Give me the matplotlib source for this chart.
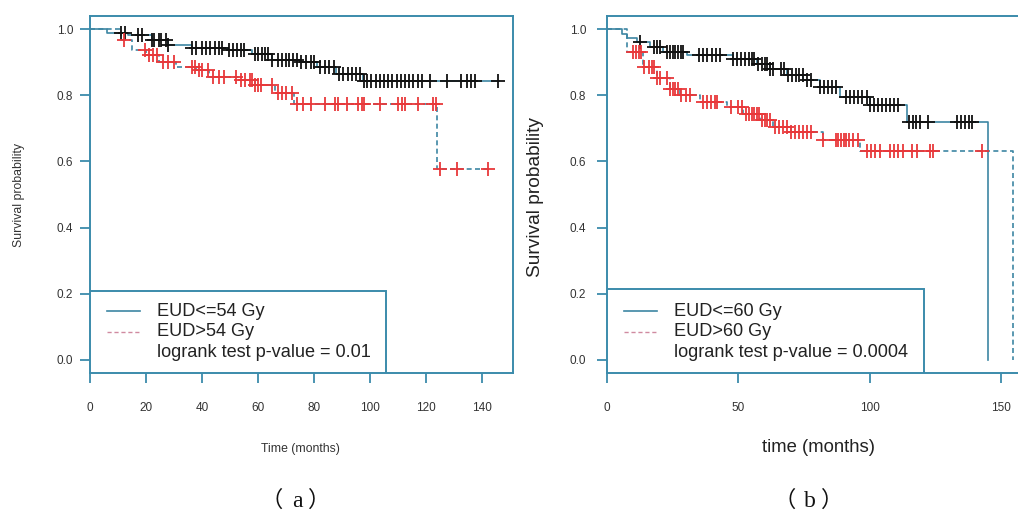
import numpy as np
import matplotlib
matplotlib.use("Agg")
import matplotlib.pyplot as plt
from matplotlib.patches import Rectangle

# ---------------- data ----------------
# Panel (a): EUD 54 Gy split
a_low_times = [0, 6, 13.7, 22, 28, 36.3, 49.4, 57.7, 65, 75, 81, 88, 97.6]
a_low_surv = [1.0, 0.99, 0.982, 0.967, 0.952, 0.942, 0.937, 0.926, 0.906, 0.90, 0.886, 0.866, 0.843]
a_low_end = 146
a_low_cens = [11, 12.5, 17, 18.6, 22, 23, 24.5, 25.5, 27, 28, 36.5, 38, 40, 41.5, 43, 44.5, 46, 47,
              49.5, 51, 52.5, 54, 55, 59, 60, 61.5, 62.5, 63.5, 65, 67, 68.5, 70, 71, 72.5, 74, 75.5,
              77, 79, 80, 82, 84, 85.5, 87, 89, 90.5, 92, 93.5, 95, 96.5, 98, 99, 100.5, 102, 103.5,
              105, 106.5, 108, 109.5, 111, 112.5, 114, 115.5, 117, 118.5, 121.5, 127.4, 132.7, 134.5,
              136, 137.5, 145.7]

a_high_times = [0, 11, 15, 20, 24.6, 30.6, 37.7, 42.5, 53, 59, 66, 73, 124]
a_high_surv = [1.0, 0.967, 0.937, 0.921, 0.90, 0.886, 0.876, 0.856, 0.846, 0.831, 0.806, 0.775, 0.578]
a_high_end = 143
a_high_cens = [12, 19.6, 21, 22.5, 24, 26, 28, 30, 36.4, 37.5, 39, 40, 42, 44, 46, 48, 52, 54, 55.5,
               57, 58, 59, 60, 61, 65, 67, 68.5, 70, 72, 74, 76, 79, 84, 87.5, 88.5, 91.8, 95.7, 97,
               98, 103.6, 110, 111.5, 112.5, 117, 122.5, 123.5, 125, 131, 142]

# Panel (b): EUD 60 Gy split
b_low_times = [0, 5.6, 7.5, 11.6, 16.3, 21.4, 30.3, 48, 57, 62, 68.3, 74.6, 81, 88.6, 100, 114, 145]
b_low_surv = [1.0, 0.987, 0.972, 0.962, 0.947, 0.931, 0.921, 0.911, 0.896, 0.881, 0.861, 0.845,
              0.826, 0.795, 0.770, 0.72, 0.0]
b_low_end = 145
b_low_cens = [12.5, 18, 19, 20, 23, 24, 25, 26, 27, 28, 29, 35, 36.5, 38, 40, 41.5, 43, 48, 49.5, 51,
              52.5, 54, 55, 56, 57.5, 59, 60, 61, 62, 63, 66, 67.5, 69, 70.5, 72, 73, 74.5, 76, 77.5,
              81, 82.5, 84, 85.5, 87, 91, 92.5, 94, 95.5, 97, 99, 100, 101.5, 103, 104.5, 106, 107.5,
              109, 110.5, 115, 116.5, 117.5, 119, 122, 133, 134.5, 136, 137.5, 139]

b_high_times = [0, 7.5, 13.7, 18.9, 24, 27.8, 35.4, 45.5, 51.8, 58.2, 63.2, 70, 82, 96.2, 154.4]
b_high_surv = [1.0, 0.93, 0.886, 0.851, 0.82, 0.80, 0.78, 0.765, 0.745, 0.725, 0.705, 0.69, 0.665,
               0.632, 0.0]
b_high_end = 154.4
b_high_cens = [10, 11, 12, 13, 14, 16, 17, 18, 19, 20, 23, 24, 25, 26, 27, 28, 30, 31.5, 36.5, 38,
               39.5, 41, 42, 47, 50, 51.5, 53, 54, 55, 56, 57, 58, 59, 60, 61, 62, 64, 65.5, 67, 68.5,
               70, 71.5, 73, 74.5, 76, 77.5, 82, 87, 88, 89, 90, 91, 92, 93.5, 95.5, 99, 100.5, 102,
               104, 107.6, 109, 110.5, 112.6, 116, 118, 123, 124, 142.6]

a_xticks = [0, 20, 40, 60, 80, 100, 120, 140]
b_xticks = [0, 50, 100, 150]
yticks = [0.0, 0.2, 0.4, 0.6, 0.8, 1.0]
a_legend = ["EUD<=54 Gy", "EUD>54 Gy", "logrank test p-value = 0.01"]
b_legend = ["EUD<=60 Gy", "EUD>60 Gy", "logrank test p-value = 0.0004"]
captions = ["a", "b"]

# ---------------- style ----------------
AX = "#3b8bab"
LINE = "#3d86a3"
TXT = "#333333"
W, H = 1018, 513

fig = plt.figure(figsize=(W / 100, H / 100), dpi=100)
plt.rcParams["font.family"] = ["Liberation Sans", "DejaVu Sans"]


def step_curve(ax, times, surv, end, cens, mcolor, ls):
    t = np.array(times + [end], dtype=float)
    s = np.array(surv + [surv[-1]], dtype=float)
    ax.step(t, s, where="post", color=LINE, lw=1.2, ls=ls, zorder=3)
    c = np.array(cens, dtype=float)
    idx = np.searchsorted(np.array(times, dtype=float), c, side="right") - 1
    cy = np.array(surv)[idx]
    ax.plot(c, cy, ls="none", marker="+", ms=10, mew=1.3, color=mcolor, zorder=4)


def panel(rect, xmax, xticks, ytick_pad, curves, legend, leg_box, leg_line, leg_text_x):
    ax = fig.add_axes(rect)
    ax.set_xlim(0, xmax)
    ax.set_ylim(-0.04, 1.04)
    for sp in ax.spines.values():
        sp.set_color(AX)
        sp.set_linewidth(1.4)
    ax.set_xticks(xticks)
    ax.set_yticks(yticks)
    ax.set_yticklabels([f"{v:.1f}" for v in yticks])
    ax.tick_params(axis="both", direction="out", length=7, width=1.3, color=AX,
                   labelsize=8.5, labelcolor=TXT)
    ax.tick_params(axis="x", pad=14)
    ax.tick_params(axis="y", pad=ytick_pad)
    for c in curves:
        step_curve(ax, *c)
    # legend box
    bx, btop = leg_box
    ax.add_patch(Rectangle((0, -0.04), bx, btop + 0.04, fill=True, facecolor="white",
                           edgecolor=AX, lw=1.4, zorder=5))
    rows = [0.147, 0.085, 0.022]
    ax.plot(leg_line, [rows[0]] * 2, color=LINE, lw=1.2, zorder=6)
    ax.plot(leg_line, [rows[1]] * 2, color="#d08aa0", lw=1.0, ls=(0, (3, 2)), zorder=6)
    for r, s in zip(rows, legend):
        ax.text(leg_text_x, r, s, fontsize=13.1, color="#222222", va="center", ha="left", zorder=6)
    return ax


ax_a = panel([90 / W, 1 - 373 / H, (513 - 90) / W, (373 - 16) / H], 151.1, a_xticks, 5,
             [(a_low_times, a_low_surv, a_low_end, a_low_cens, "#111111", "-"),
              (a_high_times, a_high_surv, a_high_end, a_high_cens, "#e8383a", (0, (3, 2)))],
             a_legend, (105.7, 0.208), [6, 18], 24)

ax_b = panel([607 / W, 1 - 373 / H, (1029 - 607) / W, (373 - 16) / H], 160.5, b_xticks, 8,
             [(b_low_times, b_low_surv, b_low_end, b_low_cens, "#111111", "-"),
              (b_high_times, b_high_surv, b_high_end, b_high_cens, "#e8383a", (0, (3, 2)))],
             b_legend, (120.5, 0.215), [6.5, 19], 25.5)

# axis labels
fig.text(19 / W, 1 - 195 / H, "Survival probability", rotation=90, fontsize=8.8, color=TXT,
         ha="center", va="center")
fig.text(300 / W, 1 - 449 / H, "Time (months)", fontsize=8.8, color=TXT, ha="center", va="center")
fig.text(535 / W, 1 - 197 / H, "Survival probability", rotation=90, fontsize=13.8, color="#222222",
         ha="center", va="center")
fig.text(818 / W, 1 - 447 / H, "time (months)", fontsize=13.3, color="#222222", ha="center",
         va="center")

# panel captions: full-width parentheses around a serif letter
cjk = ["Noto Sans CJK SC", "DejaVu Sans"]
serif = ["Liberation Serif", "DejaVu Serif"]
base = 1 - 507 / H
for xc, letter in zip([297.5, 810], captions):
    fig.text((xc - 25.5) / W, base, "（", fontsize=16, family=cjk, ha="center", va="baseline",
             color="#111111")
    fig.text(xc / W, base, letter, fontsize=17, family=serif, ha="center", va="baseline",
             color="#111111")
    fig.text((xc + 22) / W, base, "）", fontsize=16, family=cjk, ha="center", va="baseline",
             color="#111111")

fig.savefig("out.png", dpi=100)
